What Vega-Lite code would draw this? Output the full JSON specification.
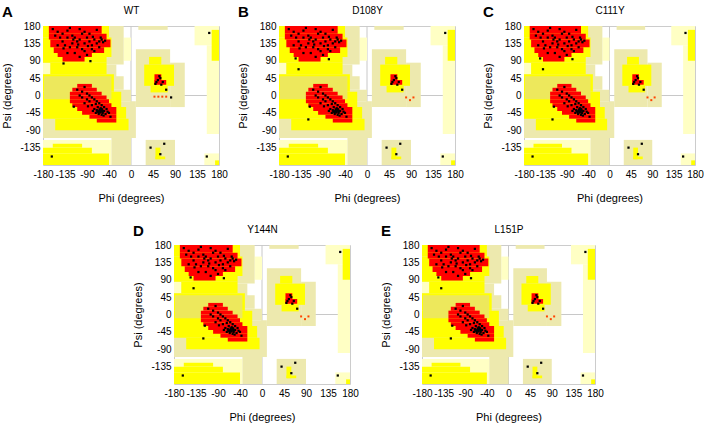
{
"$schema":"https://vega.github.io/schema/vega-lite/v6.json",
"padding":{"left":1,"top":4,"right":0,"bottom":0},
"config":{"font":"Liberation Sans","view":{"stroke":"#cccccc"},
 "axis":{"domain":false,"ticks":false,"grid":false,"labelOverlap":false,"labelFlush":false,"labelFontSize":10,"labelColor":"#000000","titleFontSize":11,"titleFontWeight":"normal","titleColor":"#000000","labelFont":"Liberation Sans","titleFont":"Liberation Sans"},
 "title":{"fontSize":15,"fontWeight":"bold","anchor":"start","frame":"bounds","color":"#000000","font":"Liberation Sans"}},
"datasets":{
 "zero":[{"v":0}],
 "bg":[
  {"z":"lt","phi1":130,"phi2":180,"psi1":130,"psi2":180},
  {"z":"lt","phi1":155,"phi2":180,"psi1":-100,"psi2":130},
  {"z":"lt","phi1":150,"phi2":180,"psi1":-180,"psi2":-150},
  {"z":"lt","phi1":-180,"phi2":-40,"psi1":-180,"psi2":-115},
  {"z":"lt","phi1":-15,"phi2":0,"psi1":90,"psi2":150},
  {"z":"gen","phi1":-180,"phi2":-15,"psi1":80,"psi2":180},
  {"z":"gen","phi1":-180,"phi2":-30,"psi1":40,"psi2":80},
  {"z":"gen","phi1":-180,"phi2":-15,"psi1":15,"psi2":50},
  {"z":"gen","phi1":-180,"phi2":0,"psi1":-15,"psi2":15},
  {"z":"gen","phi1":-180,"phi2":10,"psi1":-110,"psi2":-15},
  {"z":"gen","phi1":-40,"phi2":0,"psi1":-180,"psi2":-110},
  {"z":"gen","phi1":15,"phi2":75,"psi1":170,"psi2":180},
  {"z":"gen","phi1":10,"phi2":80,"psi1":-30,"psi2":120},
  {"z":"gen","phi1":80,"phi2":110,"psi1":-30,"psi2":85},
  {"z":"gen","phi1":30,"phi2":90,"psi1":-180,"psi2":-115},
  {"z":"lt","phi1":-180,"phi2":-165,"psi1":55,"psi2":85},
  {"z":"alw","phi1":-180,"phi2":-45,"psi1":150,"psi2":180},
  {"z":"alw","phi1":-180,"phi2":-40,"psi1":100,"psi2":150},
  {"z":"alw","phi1":-180,"phi2":-50,"psi1":85,"psi2":100},
  {"z":"alw","phi1":-165,"phi2":-50,"psi1":55,"psi2":85},
  {"z":"alw","phi1":-180,"phi2":-35,"psi1":10,"psi2":55},
  {"z":"alw","phi1":-180,"phi2":-20,"psi1":-30,"psi2":10},
  {"z":"alw","phi1":-180,"phi2":-10,"psi1":-60,"psi2":-30},
  {"z":"alw","phi1":-155,"phi2":-5,"psi1":-90,"psi2":-60},
  {"z":"alw","phi1":-160,"phi2":-100,"psi1":-135,"psi2":-125},
  {"z":"alw","phi1":-180,"phi2":-80,"psi1":-150,"psi2":-135},
  {"z":"alw","phi1":-180,"phi2":-45,"psi1":-180,"psi2":-150},
  {"z":"alw","phi1":165,"phi2":180,"psi1":90,"psi2":170},
  {"z":"alw","phi1":172,"phi2":180,"psi1":-180,"psi2":-168},
  {"z":"alw","phi1":37,"phi2":62,"psi1":80,"psi2":100},
  {"z":"alw","phi1":27,"phi2":88,"psi1":25,"psi2":80},
  {"z":"alw","phi1":40,"phi2":75,"psi1":8,"psi2":25},
  {"z":"alw","phi1":50,"phi2":60,"psi1":-165,"psi2":-135},
  {"z":"alw","phi1":50,"phi2":70,"psi1":-165,"psi2":-158},
  {"z":"alw2","phi1":-178,"phi2":-40,"psi1":-10,"psi2":50},
  {"z":"core","phi1":-168,"phi2":-60,"psi1":160,"psi2":180},
  {"z":"core","phi1":-168,"phi2":-50,"psi1":145,"psi2":160},
  {"z":"core","phi1":-165,"phi2":-42,"psi1":125,"psi2":145},
  {"z":"core","phi1":-158,"phi2":-55,"psi1":110,"psi2":125},
  {"z":"core","phi1":-150,"phi2":-80,"psi1":100,"psi2":110},
  {"z":"core","phi1":-140,"phi2":-95,"psi1":88,"psi2":100},
  {"z":"core","phi1":-110,"phi2":-80,"psi1":20,"psi2":30},
  {"z":"core","phi1":-120,"phi2":-70,"psi1":10,"psi2":20},
  {"z":"core","phi1":-125,"phi2":-60,"psi1":0,"psi2":10},
  {"z":"core","phi1":-125,"phi2":-50,"psi1":-10,"psi2":0},
  {"z":"core","phi1":-125,"phi2":-45,"psi1":-20,"psi2":-10},
  {"z":"core","phi1":-120,"phi2":-40,"psi1":-30,"psi2":-20},
  {"z":"core","phi1":-110,"phi2":-30,"psi1":-40,"psi2":-30},
  {"z":"core","phi1":-100,"phi2":-30,"psi1":-50,"psi2":-40},
  {"z":"core","phi1":-85,"phi2":-30,"psi1":-60,"psi2":-50},
  {"z":"core","phi1":-70,"phi2":-30,"psi1":-70,"psi2":-60},
  {"z":"core","phi1":48,"phi2":62,"psi1":30,"psi2":55},
  {"z":"core","phi1":48,"phi2":72,"psi1":28,"psi2":40}
 ],
 "pts":[
  {"phi":-160,"psi":172,"p":"ABCDE","k":"r"},{"phi":-150,"psi":165,"p":"ABCDE","k":"r"},{"phi":-140,"psi":160,"p":"ABCDE","k":"r"},{"phi":-130,"psi":168,"p":"ABCDE","k":"r"},
  {"phi":-120,"psi":155,"p":"ABCDE","k":"r"},{"phi":-115,"psi":150,"p":"ABCDE","k":"r"},{"phi":-110,"psi":140,"p":"ABCDE","k":"r"},{"phi":-105,"psi":145,"p":"ABCDE","k":"r"},
  {"phi":-100,"psi":160,"p":"ABCDE","k":"r"},{"phi":-95,"psi":135,"p":"ABCDE","k":"r"},{"phi":-90,"psi":150,"p":"ABCDE","k":"r"},{"phi":-85,"psi":140,"p":"ABCDE","k":"r"},
  {"phi":-80,"psi":130,"p":"ABCDE","k":"r"},{"phi":-75,"psi":145,"p":"ABCDE","k":"r"},{"phi":-70,"psi":135,"p":"ABCDE","k":"r"},{"phi":-65,"psi":140,"p":"ABCDE","k":"r"},
  {"phi":-60,"psi":145,"p":"ABCDE","k":"r"},{"phi":-57,"psi":138,"p":"ABCDE","k":"r"},{"phi":-53,"psi":142,"p":"ABCDE","k":"r"},{"phi":-140,"psi":140,"p":"ABCDE","k":"r"},
  {"phi":-135,"psi":130,"p":"ABCDE","k":"r"},{"phi":-125,"psi":125,"p":"ABCDE","k":"r"},{"phi":-120,"psi":135,"p":"ABCDE","k":"r"},{"phi":-130,"psi":150,"p":"ABCDE","k":"r"},
  {"phi":-145,"psi":150,"p":"ABCDE","k":"r"},{"phi":-155,"psi":155,"p":"ABCDE","k":"r"},{"phi":-100,"psi":120,"p":"ABCDE","k":"r"},{"phi":-95,"psi":115,"p":"ABCDE","k":"r"},
  {"phi":-110,"psi":125,"p":"ABCDE","k":"r"},{"phi":-80,"psi":120,"p":"ABCDE","k":"r"},{"phi":-85,"psi":160,"p":"ABCDE","k":"r"},{"phi":-70,"psi":170,"p":"ABCDE","k":"r"},
  {"phi":-125,"psi":175,"p":"ABCDE","k":"r"},{"phi":-105,"psi":172,"p":"ABCDE","k":"r"},{"phi":-150,"psi":130,"p":"ABCDE","k":"r"},{"phi":-115,"psi":110,"p":"ABCDE","k":"r"},
  {"phi":-105,"psi":100,"p":"ABCDE","k":"r"},{"phi":-65,"psi":125,"p":"ABCDE","k":"r"},{"phi":-75,"psi":115,"p":"ABCDE","k":"r"},{"phi":-130,"psi":110,"p":"ABCDE","k":"r"},
  {"phi":-90,"psi":105,"p":"ABCDE","k":"r"},{"phi":-118,"psi":145,"p":"ABCDE","k":"r"},{"phi":-88,"psi":128,"p":"ABCDE","k":"r"},{"phi":-78,"psi":152,"p":"ABCDE","k":"r"},
  {"phi":-108,"psi":132,"p":"ABCDE","k":"r"},{"phi":-138,"psi":122,"p":"ABCDE","k":"r"},{"phi":-62,"psi":150,"p":"ABCDE","k":"r"},{"phi":-95,"psi":165,"p":"ABCDE","k":"r"},
  {"phi":-138,"psi":83,"p":"A","k":"r"},{"phi":-83,"psi":89,"p":"A","k":"r"},
  {"phi":-146,"psi":96,"p":"BCDE","k":"r"},{"phi":-78,"psi":94,"p":"BCDE","k":"r"},{"phi":-140,"psi":68,"p":"BCDE","k":"r"},
  {"phi":-110,"psi":15,"p":"ABCDE","k":"r"},{"phi":-100,"psi":10,"p":"ABCDE","k":"r"},{"phi":-95,"psi":22,"p":"ABCDE","k":"r"},{"phi":-90,"psi":5,"p":"ABCDE","k":"r"},
  {"phi":-85,"psi":0,"p":"ABCDE","k":"r"},{"phi":-80,"psi":-5,"p":"ABCDE","k":"r"},{"phi":-75,"psi":-10,"p":"ABCDE","k":"r"},{"phi":-70,"psi":-15,"p":"ABCDE","k":"r"},
  {"phi":-65,"psi":-20,"p":"ABCDE","k":"r"},{"phi":-60,"psi":-25,"p":"ABCDE","k":"r"},{"phi":-55,"psi":-30,"p":"ABCDE","k":"r"},{"phi":-60,"psi":-35,"p":"ABCDE","k":"r"},
  {"phi":-65,"psi":-40,"p":"ABCDE","k":"r"},{"phi":-62,"psi":-42,"p":"ABCDE","k":"r"},{"phi":-58,"psi":-45,"p":"ABCDE","k":"r"},{"phi":-70,"psi":-38,"p":"ABCDE","k":"r"},
  {"phi":-68,"psi":-30,"p":"ABCDE","k":"r"},{"phi":-75,"psi":-35,"p":"ABCDE","k":"r"},{"phi":-72,"psi":-45,"p":"ABCDE","k":"r"},{"phi":-55,"psi":-40,"p":"ABCDE","k":"r"},
  {"phi":-52,"psi":-48,"p":"ABCDE","k":"r"},{"phi":-50,"psi":-35,"p":"ABCDE","k":"r"},{"phi":-66,"psi":-48,"p":"ABCDE","k":"r"},{"phi":-60,"psi":-50,"p":"ABCDE","k":"r"},
  {"phi":-80,"psi":-25,"p":"ABCDE","k":"r"},{"phi":-85,"psi":-15,"p":"ABCDE","k":"r"},{"phi":-90,"psi":-10,"p":"ABCDE","k":"r"},{"phi":-100,"psi":-5,"p":"ABCDE","k":"r"},
  {"phi":-95,"psi":-20,"p":"ABCDE","k":"r"},{"phi":-78,"psi":-40,"p":"ABCDE","k":"r"},{"phi":-64,"psi":-36,"p":"ABCDE","k":"r"},{"phi":-61,"psi":-39,"p":"ABCDE","k":"r"},
  {"phi":-57,"psi":-41,"p":"ABCDE","k":"r"},{"phi":-63,"psi":-44,"p":"ABCDE","k":"r"},{"phi":-67,"psi":-43,"p":"ABCDE","k":"r"},{"phi":-59,"psi":-37,"p":"ABCDE","k":"r"},
  {"phi":-69,"psi":-41,"p":"ABCDE","k":"r"},{"phi":-117,"psi":-29,"p":"ABCDE","k":"r"},{"phi":-45,"psi":-45,"p":"ABCDE","k":"r"},{"phi":-42,"psi":-55,"p":"ABCDE","k":"r"},
  {"phi":-105,"psi":0,"p":"ABCDE","k":"r"},{"phi":-88,"psi":-28,"p":"ABCDE","k":"r"},{"phi":-72,"psi":-22,"p":"ABCDE","k":"r"},{"phi":-56,"psi":-52,"p":"ABCDE","k":"r"},
  {"phi":-48,"psi":-42,"p":"ABCDE","k":"r"},{"phi":-62,"psi":-33,"p":"ABCDE","k":"r"},{"phi":-120,"psi":-62,"p":"BCDE","k":"r"},
  {"phi":55,"psi":40,"p":"ABCDE","k":"r"},{"phi":60,"psi":45,"p":"ABCDE","k":"r"},{"phi":52,"psi":35,"p":"ABCDE","k":"r"},{"phi":65,"psi":35,"p":"ABCDE","k":"r"},
  {"phi":58,"psi":50,"p":"ABCDE","k":"r"},{"phi":50,"psi":30,"p":"ABCDE","k":"r"},{"phi":72,"psi":15,"p":"ABCDE","k":"r"},{"phi":62,"psi":28,"p":"ABCDE","k":"r"},
  {"phi":60,"psi":-152,"p":"ABCDE","k":"r"},{"phi":68,"psi":-125,"p":"ABCDE","k":"r"},{"phi":40,"psi":-135,"p":"ABCDE","k":"r"},
  {"phi":160,"psi":162,"p":"ABCDE","k":"r"},{"phi":155,"psi":-158,"p":"ABCDE","k":"r"},{"phi":-162,"psi":-158,"p":"ABCDE","k":"r"},
  {"phi":88,"psi":-12,"p":"BCDE","k":"l"},{"phi":80,"psi":-5,"p":"BCDE","k":"l"},{"phi":95,"psi":-5,"p":"BCDE","k":"l"},
  {"phi":48,"psi":-3,"p":"A","k":"l"},{"phi":56,"psi":-3,"p":"A","k":"l"},{"phi":64,"psi":-3,"p":"A","k":"l"},{"phi":72,"psi":-3,"p":"A","k":"l"},{"phi":82,"psi":-5,"p":"A","k":"r"}
 ]
},
"vconcat":[
 {"hconcat":[
  {"width":176,"height":139,"title":{"text":"A","offset":-15},
   "layer":[
    {"data":{"name":"zero"},"mark":{"type":"rule","color":"#c8c8c8","strokeWidth":1},"encoding":{"x":{"field":"v","type":"quantitative","scale":{"domain":[-180,180],"nice":false,"zero":false},"axis":null}}},
    {"data":{"name":"zero"},"mark":{"type":"rule","color":"#c8c8c8","strokeWidth":1},"encoding":{"y":{"field":"v","type":"quantitative","scale":{"domain":[-180,180],"nice":false,"zero":false},"axis":{"title":"Psi (degrees)","values":[-135,-90,-45,0,45,90,135,180],"labelExpr":"'' + datum.value","labelOverlap":false,"labelPadding":3,"titlePadding":7}}}},
    {"data":{"name":"bg"},"mark":{"type":"rect"},"encoding":{
      "x":{"field":"phi1","type":"quantitative","scale":{"domain":[-180,180],"nice":false,"zero":false},"axis":{"orient":"bottom","title":"Phi (degrees)","values":[-180,-135,-90,-45,0,45,90,135,180],"labelExpr":"datum.value == -45 ? '-40' : '' + datum.value","labelOverlap":false,"labelFlush":false,"labelPadding":4,"titlePadding":13}},
      "x2":{"field":"phi2"},
      "y":{"field":"psi1","type":"quantitative","scale":{"domain":[-180,180],"nice":false,"zero":false},"axis":{"title":"Psi (degrees)","values":[-135,-90,-45,0,45,90,135,180],"labelExpr":"'' + datum.value","labelOverlap":false,"labelPadding":3,"titlePadding":7}},
      "y2":{"field":"psi2"},
      "color":{"field":"z","type":"nominal","scale":{"domain":["lt","gen","alw","alw2","core"],"range":["#FFFFC4","#EDE9AE","#FFFF00","#EDE85C","#FF0000"]},"legend":null}}},
    {"data":{"name":"pts"},"transform":[{"filter":"indexof(datum.p,'A') >= 0 && datum.k == 'r'"}],"mark":{"type":"square","size":5,"color":"#000000","opacity":1},"encoding":{
      "x":{"field":"phi","type":"quantitative","scale":{"domain":[-180,180],"nice":false,"zero":false},"axis":{"orient":"top","title":"WT","labels":false,"titlePadding":11,"titleFontSize":10}},
      "y":{"field":"psi","type":"quantitative","axis":{"title":"Psi (degrees)","values":[-135,-90,-45,0,45,90,135,180],"labelExpr":"'' + datum.value","labelOverlap":false,"labelPadding":3,"titlePadding":7}}}},
    {"data":{"name":"pts"},"transform":[{"filter":"indexof(datum.p,'A') >= 0 && datum.k == 'l'"}],"mark":{"type":"square","size":4,"color":"#ff4400","opacity":1},"encoding":{
      "x":{"field":"phi","type":"quantitative","axis":null},
      "y":{"field":"psi","type":"quantitative","axis":{"title":"Psi (degrees)","values":[-135,-90,-45,0,45,90,135,180],"labelExpr":"'' + datum.value","labelOverlap":false,"labelPadding":3,"titlePadding":7}}}}
   ],
   "resolve":{"axis":{"x":"independent"}}},
  {"hconcat":[
   {"width":176,"height":139,"title":{"text":"B","offset":-15},
    "layer":[
     {"data":{"name":"zero"},"mark":{"type":"rule","color":"#c8c8c8","strokeWidth":1},"encoding":{"x":{"field":"v","type":"quantitative","scale":{"domain":[-180,180],"nice":false,"zero":false},"axis":null}}},
     {"data":{"name":"zero"},"mark":{"type":"rule","color":"#c8c8c8","strokeWidth":1},"encoding":{"y":{"field":"v","type":"quantitative","scale":{"domain":[-180,180],"nice":false,"zero":false},"axis":{"title":"Psi (degrees)","values":[-135,-90,-45,0,45,90,135,180],"labelExpr":"'' + datum.value","labelOverlap":false,"labelPadding":3,"titlePadding":7}}}},
     {"data":{"name":"bg"},"mark":{"type":"rect"},"encoding":{
       "x":{"field":"phi1","type":"quantitative","scale":{"domain":[-180,180],"nice":false,"zero":false},"axis":{"orient":"bottom","title":"Phi (degrees)","values":[-180,-135,-90,-45,0,45,90,135,180],"labelExpr":"datum.value == -45 ? '-40' : '' + datum.value","labelOverlap":false,"labelFlush":false,"labelPadding":4,"titlePadding":13}},
       "x2":{"field":"phi2"},
       "y":{"field":"psi1","type":"quantitative","scale":{"domain":[-180,180],"nice":false,"zero":false},"axis":{"title":"Psi (degrees)","values":[-135,-90,-45,0,45,90,135,180],"labelExpr":"'' + datum.value","labelOverlap":false,"labelPadding":3,"titlePadding":7}},
       "y2":{"field":"psi2"},
       "color":{"field":"z","type":"nominal","scale":{"domain":["lt","gen","alw","alw2","core"],"range":["#FFFFC4","#EDE9AE","#FFFF00","#EDE85C","#FF0000"]},"legend":null}}},
     {"data":{"name":"pts"},"transform":[{"filter":"indexof(datum.p,'B') >= 0 && datum.k == 'r'"}],"mark":{"type":"square","size":5,"color":"#000000","opacity":1},"encoding":{
       "x":{"field":"phi","type":"quantitative","scale":{"domain":[-180,180],"nice":false,"zero":false},"axis":{"orient":"top","title":"D108Y","labels":false,"titlePadding":11,"titleFontSize":10}},
       "y":{"field":"psi","type":"quantitative","axis":{"title":"Psi (degrees)","values":[-135,-90,-45,0,45,90,135,180],"labelExpr":"'' + datum.value","labelOverlap":false,"labelPadding":3,"titlePadding":7}}}},
     {"data":{"name":"pts"},"transform":[{"filter":"indexof(datum.p,'B') >= 0 && datum.k == 'l'"}],"mark":{"type":"square","size":4,"color":"#ff4400","opacity":1},"encoding":{
       "x":{"field":"phi","type":"quantitative","axis":null},
       "y":{"field":"psi","type":"quantitative","axis":{"title":"Psi (degrees)","values":[-135,-90,-45,0,45,90,135,180],"labelExpr":"'' + datum.value","labelOverlap":false,"labelPadding":3,"titlePadding":7}}}}
    ],
    "resolve":{"axis":{"x":"independent"}}},
   {"width":171,"height":139,"title":{"text":"C","offset":-15},
    "layer":[
     {"data":{"name":"zero"},"mark":{"type":"rule","color":"#c8c8c8","strokeWidth":1},"encoding":{"x":{"field":"v","type":"quantitative","scale":{"domain":[-180,180],"nice":false,"zero":false},"axis":null}}},
     {"data":{"name":"zero"},"mark":{"type":"rule","color":"#c8c8c8","strokeWidth":1},"encoding":{"y":{"field":"v","type":"quantitative","scale":{"domain":[-180,180],"nice":false,"zero":false},"axis":{"title":"Psi (degrees)","values":[-135,-90,-45,0,45,90,135,180],"labelExpr":"'' + datum.value","labelOverlap":false,"labelPadding":3,"titlePadding":7}}}},
     {"data":{"name":"bg"},"mark":{"type":"rect"},"encoding":{
       "x":{"field":"phi1","type":"quantitative","scale":{"domain":[-180,180],"nice":false,"zero":false},"axis":{"orient":"bottom","title":"Phi (degrees)","values":[-180,-135,-90,-45,0,45,90,135,180],"labelExpr":"datum.value == -45 ? '-40' : '' + datum.value","labelOverlap":false,"labelFlush":false,"labelPadding":4,"titlePadding":13}},
       "x2":{"field":"phi2"},
       "y":{"field":"psi1","type":"quantitative","scale":{"domain":[-180,180],"nice":false,"zero":false},"axis":{"title":"Psi (degrees)","values":[-135,-90,-45,0,45,90,135,180],"labelExpr":"'' + datum.value","labelOverlap":false,"labelPadding":3,"titlePadding":7}},
       "y2":{"field":"psi2"},
       "color":{"field":"z","type":"nominal","scale":{"domain":["lt","gen","alw","alw2","core"],"range":["#FFFFC4","#EDE9AE","#FFFF00","#EDE85C","#FF0000"]},"legend":null}}},
     {"data":{"name":"pts"},"transform":[{"filter":"indexof(datum.p,'C') >= 0 && datum.k == 'r'"}],"mark":{"type":"square","size":5,"color":"#000000","opacity":1},"encoding":{
       "x":{"field":"phi","type":"quantitative","scale":{"domain":[-180,180],"nice":false,"zero":false},"axis":{"orient":"top","title":"C111Y","labels":false,"titlePadding":11,"titleFontSize":10}},
       "y":{"field":"psi","type":"quantitative","axis":{"title":"Psi (degrees)","values":[-135,-90,-45,0,45,90,135,180],"labelExpr":"'' + datum.value","labelOverlap":false,"labelPadding":3,"titlePadding":7}}}},
     {"data":{"name":"pts"},"transform":[{"filter":"indexof(datum.p,'C') >= 0 && datum.k == 'l'"}],"mark":{"type":"square","size":4,"color":"#ff4400","opacity":1},"encoding":{
       "x":{"field":"phi","type":"quantitative","axis":null},
       "y":{"field":"psi","type":"quantitative","axis":{"title":"Psi (degrees)","values":[-135,-90,-45,0,45,90,135,180],"labelExpr":"'' + datum.value","labelOverlap":false,"labelPadding":3,"titlePadding":7}}}}
    ],
    "resolve":{"axis":{"x":"independent"}}}
  ],"spacing":69,"bounds":"flush"}
 ],"spacing":60,"bounds":"flush"},
 {"hconcat":[
  {"width":59,"height":139,"data":{"values":[{"n":1}]},"mark":{"type":"point","opacity":0},"view":{"stroke":null}},
  {"width":176,"height":139,"title":{"text":"D","offset":-15},
   "layer":[
    {"data":{"name":"zero"},"mark":{"type":"rule","color":"#c8c8c8","strokeWidth":1},"encoding":{"x":{"field":"v","type":"quantitative","scale":{"domain":[-180,180],"nice":false,"zero":false},"axis":null}}},
    {"data":{"name":"zero"},"mark":{"type":"rule","color":"#c8c8c8","strokeWidth":1},"encoding":{"y":{"field":"v","type":"quantitative","scale":{"domain":[-180,180],"nice":false,"zero":false},"axis":{"title":"Psi (degrees)","values":[-135,-90,-45,0,45,90,135,180],"labelExpr":"'' + datum.value","labelOverlap":false,"labelPadding":3,"titlePadding":7}}}},
    {"data":{"name":"bg"},"mark":{"type":"rect"},"encoding":{
      "x":{"field":"phi1","type":"quantitative","scale":{"domain":[-180,180],"nice":false,"zero":false},"axis":{"orient":"bottom","title":"Phi (degrees)","values":[-180,-135,-90,-45,0,45,90,135,180],"labelExpr":"datum.value == -45 ? '-40' : '' + datum.value","labelOverlap":false,"labelFlush":false,"labelPadding":4,"titlePadding":13}},
      "x2":{"field":"phi2"},
      "y":{"field":"psi1","type":"quantitative","scale":{"domain":[-180,180],"nice":false,"zero":false},"axis":{"title":"Psi (degrees)","values":[-135,-90,-45,0,45,90,135,180],"labelExpr":"'' + datum.value","labelOverlap":false,"labelPadding":3,"titlePadding":7}},
      "y2":{"field":"psi2"},
      "color":{"field":"z","type":"nominal","scale":{"domain":["lt","gen","alw","alw2","core"],"range":["#FFFFC4","#EDE9AE","#FFFF00","#EDE85C","#FF0000"]},"legend":null}}},
    {"data":{"name":"pts"},"transform":[{"filter":"indexof(datum.p,'D') >= 0 && datum.k == 'r'"}],"mark":{"type":"square","size":5,"color":"#000000","opacity":1},"encoding":{
      "x":{"field":"phi","type":"quantitative","scale":{"domain":[-180,180],"nice":false,"zero":false},"axis":{"orient":"top","title":"Y144N","labels":false,"titlePadding":11,"titleFontSize":10}},
      "y":{"field":"psi","type":"quantitative","axis":{"title":"Psi (degrees)","values":[-135,-90,-45,0,45,90,135,180],"labelExpr":"'' + datum.value","labelOverlap":false,"labelPadding":3,"titlePadding":7}}}},
    {"data":{"name":"pts"},"transform":[{"filter":"indexof(datum.p,'D') >= 0 && datum.k == 'l'"}],"mark":{"type":"square","size":4,"color":"#ff4400","opacity":1},"encoding":{
      "x":{"field":"phi","type":"quantitative","axis":null},
      "y":{"field":"psi","type":"quantitative","axis":{"title":"Psi (degrees)","values":[-135,-90,-45,0,45,90,135,180],"labelExpr":"'' + datum.value","labelOverlap":false,"labelPadding":3,"titlePadding":7}}}}
   ],
   "resolve":{"axis":{"x":"independent"}}},
  {"width":173,"height":139,"title":{"text":"E","offset":-15},
   "layer":[
    {"data":{"name":"zero"},"mark":{"type":"rule","color":"#c8c8c8","strokeWidth":1},"encoding":{"x":{"field":"v","type":"quantitative","scale":{"domain":[-180,180],"nice":false,"zero":false},"axis":null}}},
    {"data":{"name":"zero"},"mark":{"type":"rule","color":"#c8c8c8","strokeWidth":1},"encoding":{"y":{"field":"v","type":"quantitative","scale":{"domain":[-180,180],"nice":false,"zero":false},"axis":{"title":"Psi (degrees)","values":[-135,-90,-45,0,45,90,135,180],"labelExpr":"'' + datum.value","labelOverlap":false,"labelPadding":3,"titlePadding":7}}}},
    {"data":{"name":"bg"},"mark":{"type":"rect"},"encoding":{
      "x":{"field":"phi1","type":"quantitative","scale":{"domain":[-180,180],"nice":false,"zero":false},"axis":{"orient":"bottom","title":"Phi (degrees)","values":[-180,-135,-90,-45,0,45,90,135,180],"labelExpr":"datum.value == -45 ? '-40' : '' + datum.value","labelOverlap":false,"labelFlush":false,"labelPadding":4,"titlePadding":13}},
      "x2":{"field":"phi2"},
      "y":{"field":"psi1","type":"quantitative","scale":{"domain":[-180,180],"nice":false,"zero":false},"axis":{"title":"Psi (degrees)","values":[-135,-90,-45,0,45,90,135,180],"labelExpr":"'' + datum.value","labelOverlap":false,"labelPadding":3,"titlePadding":7}},
      "y2":{"field":"psi2"},
      "color":{"field":"z","type":"nominal","scale":{"domain":["lt","gen","alw","alw2","core"],"range":["#FFFFC4","#EDE9AE","#FFFF00","#EDE85C","#FF0000"]},"legend":null}}},
    {"data":{"name":"pts"},"transform":[{"filter":"indexof(datum.p,'E') >= 0 && datum.k == 'r'"}],"mark":{"type":"square","size":5,"color":"#000000","opacity":1},"encoding":{
      "x":{"field":"phi","type":"quantitative","scale":{"domain":[-180,180],"nice":false,"zero":false},"axis":{"orient":"top","title":"L151P","labels":false,"titlePadding":11,"titleFontSize":10}},
      "y":{"field":"psi","type":"quantitative","axis":{"title":"Psi (degrees)","values":[-135,-90,-45,0,45,90,135,180],"labelExpr":"'' + datum.value","labelOverlap":false,"labelPadding":3,"titlePadding":7}}}},
    {"data":{"name":"pts"},"transform":[{"filter":"indexof(datum.p,'E') >= 0 && datum.k == 'l'"}],"mark":{"type":"square","size":4,"color":"#ff4400","opacity":1},"encoding":{
      "x":{"field":"phi","type":"quantitative","axis":null},
      "y":{"field":"psi","type":"quantitative","axis":{"title":"Psi (degrees)","values":[-135,-90,-45,0,45,90,135,180],"labelExpr":"'' + datum.value","labelOverlap":false,"labelPadding":3,"titlePadding":7}}}}
   ],
   "resolve":{"axis":{"x":"independent"}}}
 ],"spacing":72,"bounds":"flush"}
],
"spacing":19
}
